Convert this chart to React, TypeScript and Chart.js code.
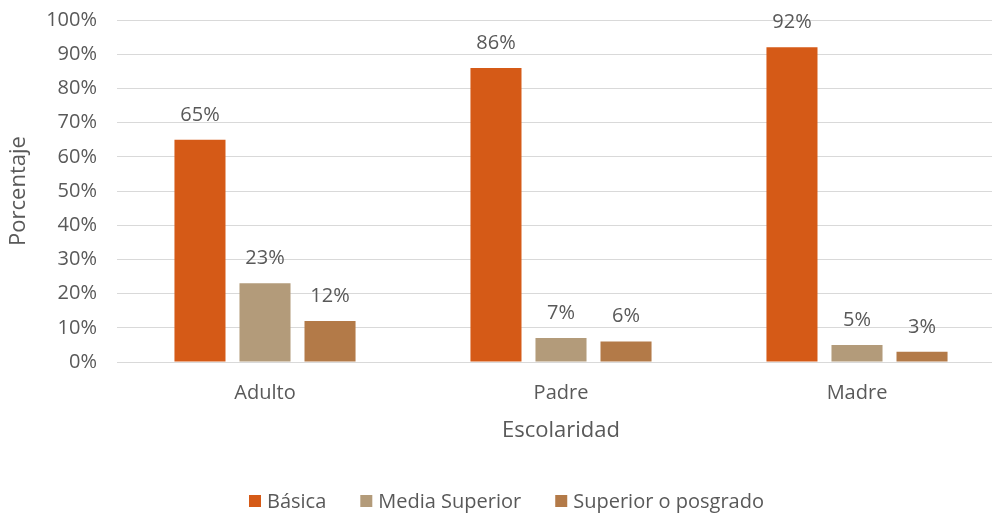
import React, { useEffect, useRef } from "react";
import { Chart, registerables } from "chart.js";

Chart.register(...registerables);

const categories = ["Adulto", "Padre", "Madre"];
const seriesNames = ["Básica", "Media Superior", "Superior o posgrado"];
const basica = [65, 86, 92];
const mediaSuperior = [23, 7, 5];
const superiorPosgrado = [12, 6, 3];
const colors = ["#D55A17", "#B39B7A", "#B37A48"];
const yTicks = [0, 10, 20, 30, 40, 50, 60, 70, 80, 90, 100];

const FONT = "'Open Sans', sans-serif";
const TEXT = "#595959";

const labelPlugin = {
  id: "valueLabels",
  afterDatasetsDraw(chart: any) {
    const ctx = chart.ctx;
    ctx.save();
    ctx.font = `20px ${FONT}`;
    ctx.fillStyle = TEXT;
    ctx.textAlign = "center";
    ctx.textBaseline = "alphabetic";
    chart.data.datasets.forEach((ds: any, i: number) => {
      const meta = chart.getDatasetMeta(i);
      meta.data.forEach((bar: any, j: number) => {
        ctx.fillText(`${ds.data[j]}%`, bar.x, bar.y - 19);
      });
    });
    ctx.restore();
  },
};

const legendPlugin = {
  id: "customLegend",
  afterDraw(chart: any) {
    const ctx = chart.ctx;
    ctx.save();
    ctx.font = `20px ${FONT}`;
    ctx.textBaseline = "middle";
    ctx.textAlign = "left";
    const box = 12;
    const gapText = 6;
    const gapItem = 34;
    const items = chart.data.datasets.map((ds: any) => ({
      label: ds.label,
      color: ds.backgroundColor,
      w: box + gapText + ctx.measureText(ds.label).width,
    }));
    const total = items.reduce((s: number, it: any) => s + it.w, 0) + gapItem * (items.length - 1);
    let x = 506.5 - total / 2;
    const y = 501;
    items.forEach((it: any) => {
      ctx.fillStyle = it.color;
      ctx.fillRect(x, y - box / 2, box, box);
      ctx.fillStyle = TEXT;
      ctx.fillText(it.label, x + box + gapText, y + 1);
      x += it.w + gapItem;
    });
    ctx.restore();
  },
};

export default function App() {
  const ref = useRef<HTMLCanvasElement>(null);
  useEffect(() => {
    if (!ref.current) return;
    const data = [basica, mediaSuperior, superiorPosgrado];
    const chart = new Chart(ref.current, {
      type: "bar",
      data: {
        labels: categories,
        datasets: seriesNames.map((name, i) => ({
          label: name,
          data: data[i],
          backgroundColor: colors[i],
          borderWidth: 0,
          categoryPercentage: 0.659,
          barPercentage: 0.785,
        })),
      },
      options: {
        responsive: false,
        animation: false,
        events: [],
        layout: { padding: { top: 20, right: 0, bottom: 28, left: 0 } },
        plugins: { legend: { display: false }, tooltip: { enabled: false } },
        scales: {
          x: {
            grid: { display: false, drawTicks: false },
            border: { display: false },
            ticks: { color: TEXT, font: { family: FONT, size: 20 }, padding: 19 },
            title: {
              display: true,
              text: "Escolaridad",
              color: TEXT,
              font: { family: FONT, size: 22 },
              padding: { top: 41, bottom: 41 },
            },
            afterFit(scale: any) {
              scale.height = 123;
              scale.paddingLeft = 0;
              scale.paddingRight = 0;
            },
          },
          y: {
            min: 0,
            max: 100,
            afterBuildTicks(scale: any) {
              scale.ticks = yTicks.map((v) => ({ value: v }));
            },
            grid: { color: "#D9D9D9", lineWidth: 1, drawTicks: false },
            border: { display: false },
            ticks: {
              color: TEXT,
              font: { family: FONT, size: 20 },
              padding: 20,
              callback: (v: any) => `${v}%`,
            },
            title: {
              display: true,
              text: "Porcentaje",
              color: TEXT,
              font: { family: FONT, size: 22 },
              padding: { top: 6, bottom: 6 },
            },
            afterFit(scale: any) {
              scale.width = 117;
              scale.paddingTop = 0;
              scale.paddingBottom = 0;
            },
          },
        },
      },
      plugins: [labelPlugin, legendPlugin],
    });
    return () => chart.destroy();
  }, []);
  return (
    <div style={{ position: "absolute", left: 0, top: 0, width: 992, height: 513, overflow: "hidden", background: "#fff" }}>
      <canvas ref={ref} width={1005} height={513} style={{ width: 1005, height: 513, display: "block" }} />
    </div>
  );
}
